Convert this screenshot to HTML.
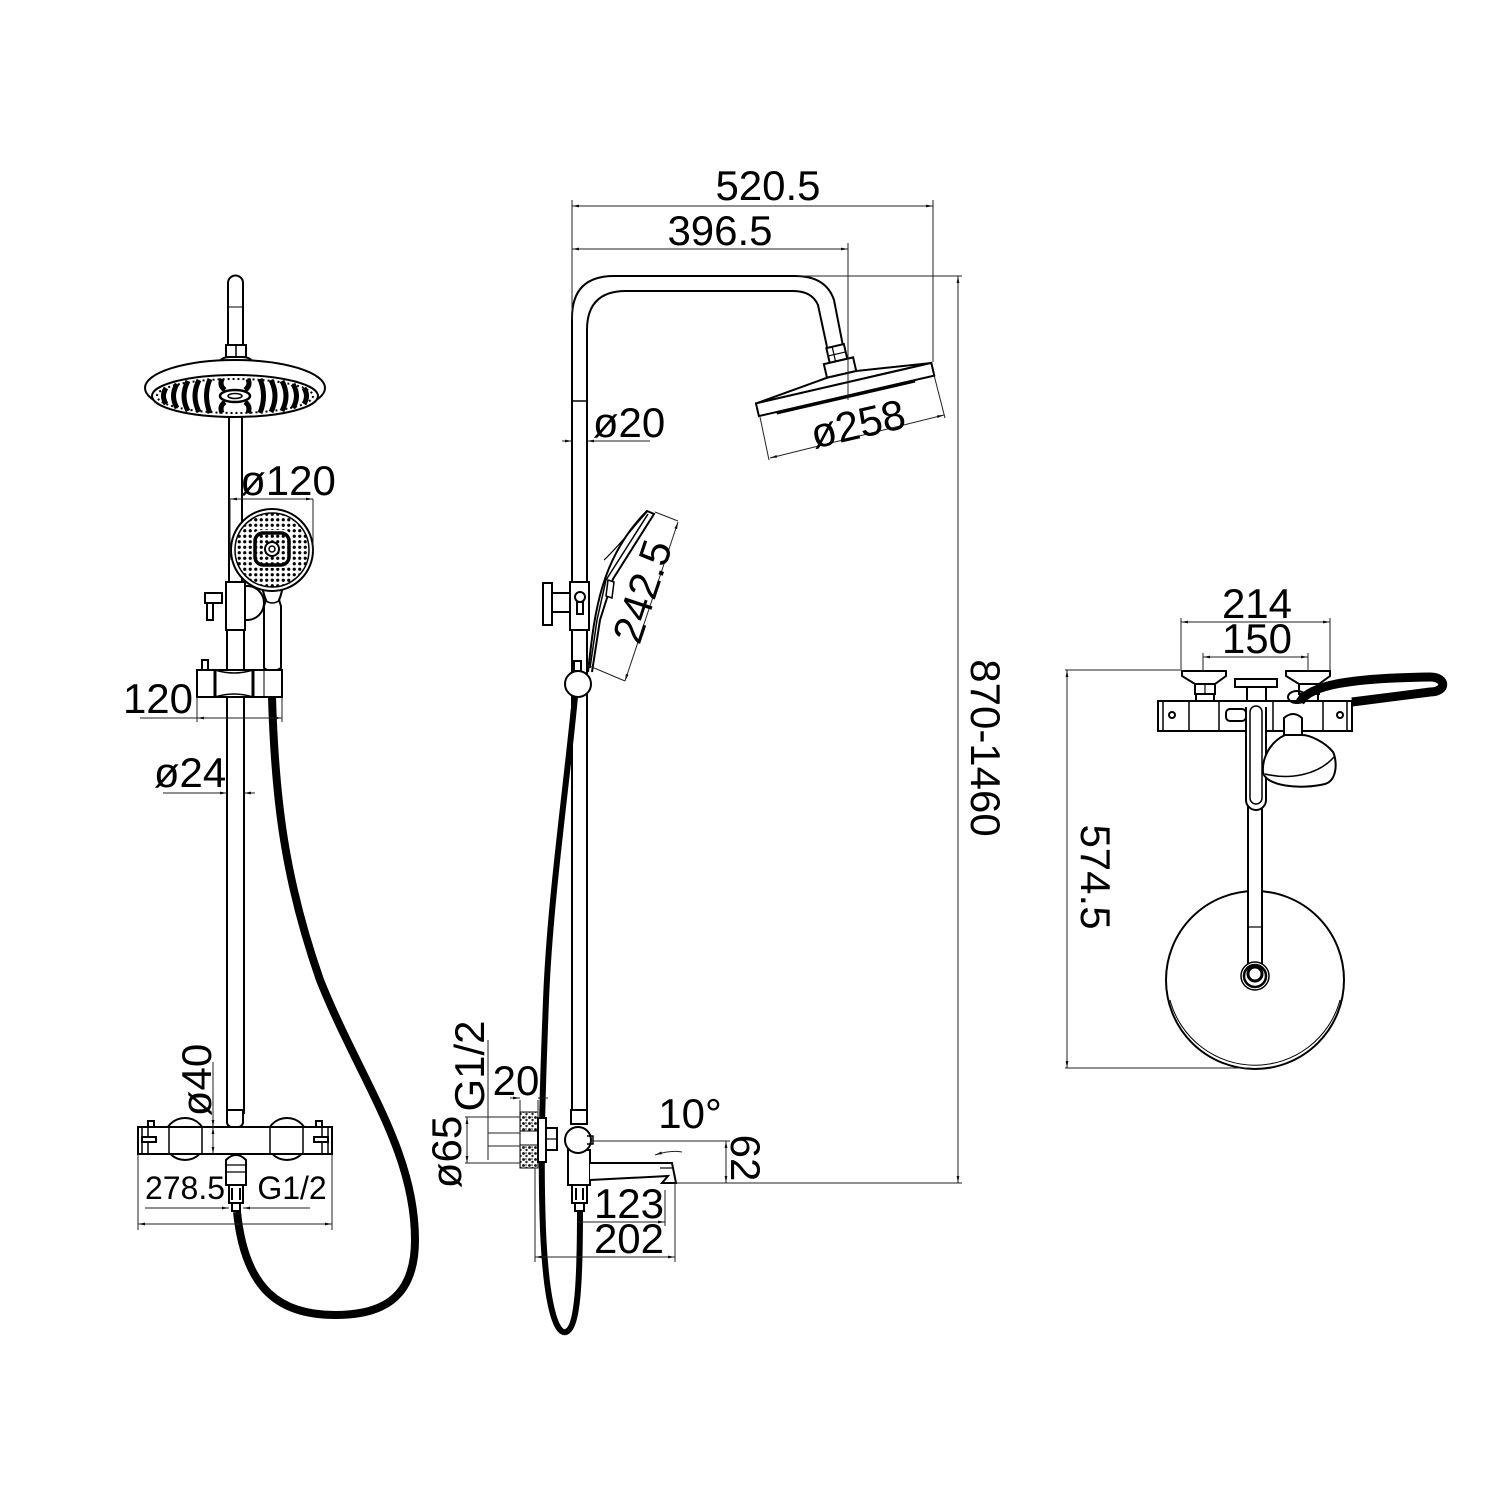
<!DOCTYPE html>
<html><head><meta charset="utf-8"><style>
html,body{margin:0;padding:0;background:#fff;}
svg{display:block;}
text{font-family:"Liberation Sans",Arial,sans-serif;fill:#000;}
</style></head><body>
<svg width="1500" height="1500" viewBox="0 0 1500 1500" xmlns="http://www.w3.org/2000/svg">
<defs>
<marker id="a" viewBox="0 0 10 10" refX="10" refY="5" markerWidth="9" markerHeight="7" orient="auto-start-reverse" markerUnits="userSpaceOnUse"><path d="M0,3 L10,5 L0,7 z" fill="#111"/></marker>
<pattern id="dots" width="5.5" height="5.5" patternUnits="userSpaceOnUse"><circle cx="2.75" cy="2.75" r="1.6" fill="#000"/></pattern>
<pattern id="rough" width="6" height="6" patternUnits="userSpaceOnUse"><rect width="6" height="6" fill="#fff"/><circle cx="1.5" cy="1.5" r="1.4" fill="#111"/><circle cx="4.5" cy="4" r="1.2" fill="#222"/><circle cx="4" cy="1" r="0.8" fill="#222"/></pattern>
</defs>

<!-- ================= LEFT VIEW ================= -->
<g stroke="#000" stroke-width="2" fill="#fff">
  <path d="M272,697 C275,800 285,880 320,980 C360,1080 415,1150 415,1240 C415,1300 380,1315 335,1315 C280,1315 245,1290 237,1212" fill="none" stroke-width="8"/>
  <path d="M228,346 L228,283 A7.5,7.5 0 0 1 243,283 L243,346"/>
  <line x1="228" y1="307" x2="243" y2="307" stroke-width="1"/>
  <rect x="226" y="345" width="20" height="12"/>
  <line x1="236" y1="345" x2="236" y2="357" stroke-width="1.5"/>
  <path d="M219,363 Q221,357 230,357 L242,357 Q251,357 253,363 Z"/>
  <ellipse cx="235" cy="388" rx="90" ry="28"/>
  <ellipse cx="235" cy="396" rx="83" ry="21"/>
  <ellipse cx="235" cy="396" rx="78" ry="17" fill="none" stroke-dasharray="2 3" stroke-width="2"/>
  <g fill="none" stroke-width="5">
    <path d="M166,388 Q161,396 166,404"/>
    <path d="M177,384 Q170,396 177,408"/>
    <path d="M188,381 Q180,396 188,411"/>
    <path d="M199,380 Q191,396 199,412"/>
    <path d="M210,379 Q203,396 210,413"/>
    <path d="M260,379 Q267,396 260,413"/>
    <path d="M271,380 Q279,396 271,412"/>
    <path d="M282,381 Q290,396 282,411"/>
    <path d="M293,384 Q300,396 293,408"/>
    <path d="M304,388 Q309,396 304,404"/>
    <path d="M222,379 Q219,386 225,390 M248,379 Q251,386 245,390 M222,413 Q219,406 225,402 M248,413 Q251,406 245,402"/>
  </g>
  <ellipse cx="235" cy="396" rx="15" ry="6" stroke-width="2.5"/>
  <ellipse cx="235" cy="396" rx="7" ry="2.5" stroke-width="1.5"/>
  <path d="M229,416 L229,582 M242,416 L242,582" fill="none"/>
  <path d="M227,582 L227,1114 M244,582 L244,1114" fill="none"/>
  <circle cx="247" cy="603" r="17"/>
  <rect x="226" y="582" width="19" height="48"/>
  <rect x="205" y="593" width="17" height="10"/>
  <rect x="207" y="603" width="6" height="17"/>
  <path d="M262,586 Q264,596 266,600 L264,606 L264,668 Q272,674 281,668 L281,606 L279,600 Q281,596 283,586 Z"/>
  <path d="M265,600 Q272,606 280,600" fill="none" stroke-width="1.5"/>
  <circle cx="272" cy="550" r="41"/>
  <circle cx="272" cy="550" r="37" stroke-width="1.5" fill="url(#dots)"/>
  <rect x="252" y="530" width="40" height="38" rx="9" fill="#fff" stroke="none"/>
  <rect x="255" y="533" width="34" height="32" rx="8" stroke-width="3.5" fill="url(#dots)"/>
  <circle cx="272" cy="549" r="7" stroke-width="2"/>
  <circle cx="272" cy="549" r="3" stroke-width="1.5"/>
  <rect x="202" y="660" width="6" height="10"/>
  <path d="M197,670 L282,670 L282,697 L197,697 Z"/>
  <path d="M215,670 Q234,676 253,670 M215,697 Q234,691 253,697" fill="none" stroke-width="1.5"/>
  <line x1="215" y1="670" x2="215" y2="697" stroke-width="3"/>
  <line x1="253" y1="670" x2="253" y2="697" stroke-width="3"/>
  <line x1="264" y1="670" x2="264" y2="697" stroke-width="1"/>
  <circle cx="185" cy="1139" r="21"/>
  <circle cx="287" cy="1139" r="21"/>
  <path d="M227,1110 L243,1110 L243,1122 Q243,1127 235,1128 Q227,1127 227,1122 Z"/>
  <rect x="138" y="1127" width="194" height="27"/>
  <path d="M169,1127 L169,1154 M202,1127 L202,1154 M270,1127 L270,1154 M303,1127 L303,1154" fill="none" stroke-width="1.5"/>
  <path d="M142,1127 L142,1154 M148,1127 L148,1154 M322,1127 L322,1154 M328,1127 L328,1154" fill="none" stroke-width="1.5"/>
  <rect x="148" y="1121" width="6" height="6"/>
  <rect x="316" y="1121" width="6" height="6"/>
  <rect x="142" y="1137" width="14" height="5"/>
  <rect x="314" y="1137" width="14" height="5"/>
  <path d="M226,1160 Q236,1150 246,1160 L246,1185 L226,1185 Z"/>
  <path d="M226,1165 L246,1165 M226,1172 L246,1172" fill="none" stroke-width="1.2"/>
  <rect x="229" y="1185" width="14" height="18" stroke-width="2"/>
  <path d="M232,1188 L232,1200 M240,1188 L240,1200" stroke-width="2"/>
  <rect x="232" y="1203" width="8" height="8"/>
</g>
<g stroke="#222" stroke-width="1" fill="none">
  <path d="M230,499 L313,499" marker-start="url(#a)" marker-end="url(#a)"/>
  <path d="M230,499 L230,560 M313,499 L313,552"/>
  <path d="M140,718 L197,718" />
  <path d="M197,718 L282,718" marker-start="url(#a)" marker-end="url(#a)"/>
  <path d="M197,697 L197,722 M282,697 L282,722"/>
  <path d="M163,793 L227,793" marker-end="url(#a)"/>
  <path d="M255,793 L244,793" marker-end="url(#a)"/>
  <path d="M213,1062 L213,1127" marker-end="url(#a)"/>
  <path d="M213,1127 L213,1154" marker-start="url(#a)" marker-end="url(#a)"/>
  <path d="M145,1208 L229,1208" marker-end="url(#a)"/>
  <path d="M310,1208 L243,1208" marker-end="url(#a)"/>
  <path d="M138,1224 L332,1224" marker-start="url(#a)" marker-end="url(#a)"/>
  <path d="M138,1154 L138,1230 M332,1154 L332,1230"/>
</g>
<g font-size="42">
  <text x="288" y="495" text-anchor="middle">ø120</text>
  <text x="158" y="713" text-anchor="middle">120</text>
  <text x="190" y="787" text-anchor="middle">ø24</text>
  <text transform="translate(211,1080) rotate(-90)" text-anchor="middle">ø40</text>
</g>
<g font-size="32">
  <text x="185" y="1199" text-anchor="middle">278.5</text>
  <text x="292" y="1199" text-anchor="middle">G1/2</text>
</g>

<!-- ================= MIDDLE VIEW ================= -->
<g stroke="#000" stroke-width="2" fill="#fff">
  <path d="M575,697 C565,800 550,900 546,1000 C543,1080 540,1150 543,1230 C546,1300 555,1335 566,1332 C578,1328 580,1280 580,1208" fill="none" stroke-width="6"/>
  <path d="M572,1112 L572,318 Q572,276 614,276 L795,276 Q826,276 834,300 L843,346" fill="none"/>
  <path d="M587,1112 L587,330 Q587,291 626,291 L793,291 Q812,291 818,305 L827,347" fill="none"/>
  <line x1="572" y1="401" x2="587" y2="401" stroke-width="1.5"/>
  <g transform="translate(845,389) rotate(-13)">
    <rect x="-9" y="-44" width="18" height="15"/>
    <path d="M-9,-36 L9,-36 M-3,-44 L-3,-29" stroke-width="1.2"/>
    <rect x="-15" y="-29" width="30" height="14"/>
    <path d="M-89,-6 L-15,-15 L15,-15 L89,-6 Z"/>
    <rect x="-90" y="-6" width="180" height="13"/>
    <line x1="-72" y1="8" x2="70" y2="8" stroke-width="3"/>
  </g>
  <rect x="543" y="583" width="9" height="42"/>
  <rect x="552" y="593" width="18" height="19"/>
  <path d="M570,592 A8,9 0 0 1 570,612" fill="none"/>
  <rect x="570" y="582" width="19" height="48"/>
  <circle cx="580" cy="597" r="5"/>
  <rect x="577" y="602" width="6" height="12"/>
  <path d="M588,672 C594,620 598,560 647,511 L654,514 L613,579 L600,620 L592,672" />
  <path d="M648,514 L606,580 L597,620 L590,668" fill="none" stroke-width="1.5"/>
  <path d="M608,580 L614,582 L612,598 L606,596 Z" stroke-width="1.5"/>
  <path d="M604,560 C620,545 635,525 647,512" fill="none" stroke-width="1.2"/>
  <rect x="574" y="661" width="7" height="10"/>
  <circle cx="578" cy="684" r="13"/>
  <rect x="520" y="1112" width="18" height="56" fill="url(#rough)" stroke-width="1"/>
  <rect x="520" y="1131" width="18" height="14" stroke-width="1"/>
  <rect x="538" y="1118" width="8" height="44"/>
  <path d="M546,1128 L557,1128 L557,1150 L546,1150 Z"/>
  <line x1="546" y1="1139" x2="557" y2="1139" stroke-width="1.2"/>
  <path d="M571,1110 L587,1110 L587,1124 L571,1124 Z"/>
  <path d="M568,1150 L590,1150 L590,1185 L568,1185 Z"/>
  <path d="M590,1163 L672,1163 L676,1183 L662,1183 L668,1176 L590,1180" />
  <path d="M660,1168 L672,1168" fill="none" stroke-width="1.2"/>
  <circle cx="578" cy="1140" r="13"/>
  <path d="M587,1136 L593,1136 L593,1144 L587,1144" fill="none" stroke-width="1.5"/>
  <rect x="572" y="1185" width="15" height="18"/>
  <path d="M576,1188 L576,1200 M583,1188 L583,1200" stroke-width="2"/>
  <rect x="575" y="1203" width="9" height="8"/>
</g>
<g stroke="#222" stroke-width="1" fill="none">
  <path d="M572,206 L933,206" marker-start="url(#a)" marker-end="url(#a)"/>
  <path d="M572,249 L848,249" marker-start="url(#a)" marker-end="url(#a)"/>
  <path d="M572,200 L572,320 M933,200 L933,362 M848,243 L848,400"/>
  <path d="M797,276 L962,276 M675,1183 L962,1183"/>
  <path d="M958,276 L958,1183" marker-start="url(#a)" marker-end="url(#a)"/>
  <path d="M562,441 L572,441" marker-end="url(#a)"/>
  <path d="M650,441 L587,441" marker-end="url(#a)"/>
  <path d="M760,417 L769,460 M934,375 L945,418"/>
  <path d="M770,458 L944,415" marker-start="url(#a)" marker-end="url(#a)"/>
  <path d="M587,665 L625,681 M655,512 L678,521"/>
  <path d="M625,681 L678,522" marker-start="url(#a)" marker-end="url(#a)"/>
  <path d="M590,1141 L730,1141"/>
  <path d="M726,1141 L726,1183" marker-start="url(#a)" marker-end="url(#a)"/>
  <path d="M578,1222 L665,1222" marker-end="url(#a)"/>
  <path d="M535,1257 L675,1257" marker-start="url(#a)" marker-end="url(#a)"/>
  <path d="M535,1168 L535,1262 M675,1183 L675,1262 M665,1190 L665,1226"/>
  <path d="M488,1040 L488,1160"/>
  <path d="M510,1098 L520,1098" marker-end="url(#a)"/>
  <path d="M548,1098 L538,1098" marker-end="url(#a)"/>
  <path d="M520,1100 L520,1112 M538,1100 L538,1118"/>
  <path d="M465,1117 L520,1117 M465,1163 L520,1163"/>
  <path d="M467,1117 L467,1163" marker-start="url(#a)" marker-end="url(#a)"/>
  <path d="M488,1133 L520,1133 M488,1146 L520,1146"/>
  <path d="M655,1155 Q670,1150 682,1152" marker-start="url(#a)"/>
</g>
<g font-size="42">
  <text x="768" y="200" text-anchor="middle">520.5</text>
  <text x="720" y="245" text-anchor="middle">396.5</text>
  <text x="629" y="437" text-anchor="middle">ø20</text>
  <text transform="translate(861,438) rotate(-13)" text-anchor="middle">ø258</text>
  <text transform="translate(656,596) rotate(-71.5)" text-anchor="middle">242.5</text>
  <text transform="translate(971,748) rotate(90)" text-anchor="middle">870-1460</text>
  <text transform="translate(731,1158) rotate(90)" text-anchor="middle">62</text>
  <text x="690" y="1128" text-anchor="middle">10°</text>
  <text x="629" y="1218" text-anchor="middle">123</text>
  <text x="629" y="1253" text-anchor="middle">202</text>
  <text x="516" y="1095" text-anchor="middle">20</text>
  <text transform="translate(484,1066) rotate(-90)" text-anchor="middle">G1/2</text>
  <text transform="translate(461,1152) rotate(-90)" text-anchor="middle">ø65</text>
</g>

<!-- ================= RIGHT VIEW ================= -->
<g stroke="#000" stroke-width="2" fill="#fff">
  <circle cx="1255" cy="980" r="89"/>
  <path d="M1170,1000 A88,88 0 0 0 1340,1000" fill="none" stroke-width="1"/>
  <path d="M1248,731 L1248,967 A7,7 0 0 0 1262,967 L1262,731" />
  <line x1="1248" y1="927" x2="1262" y2="927" stroke-width="1.2"/>
  <circle cx="1255" cy="976" r="14" stroke-width="1.5"/>
  <circle cx="1255" cy="976" r="11" stroke-width="2.5"/>
  <circle cx="1255" cy="974" r="7" stroke-width="3"/>
  <path d="M1182,671 L1226,671 L1226,676 L1215,684 L1195,684 L1182,676 Z"/>
  <rect x="1195" y="684" width="20" height="10"/>
  <line x1="1205" y1="684" x2="1205" y2="694" stroke-width="1.2"/>
  <path d="M1196,694 L1214,694 L1214,701 L1196,701 Z"/>
  <path d="M1286,671 L1330,671 L1330,676 L1319,684 L1299,684 L1286,676 Z"/>
  <rect x="1299" y="684" width="20" height="10"/>
  <path d="M1300,694 L1318,694 L1318,701 L1300,701 Z"/>
  <rect x="1235" y="679" width="42" height="8"/>
  <rect x="1247" y="687" width="19" height="15"/>
  <rect x="1158" y="701" width="194" height="30"/>
  <path d="M1163,701 L1163,731 M1189,701 L1189,731 M1219,701 L1219,731 M1273,701 L1273,731 M1323,701 L1323,731 M1347,701 L1347,731" fill="none" stroke-width="1.5"/>
  <circle cx="1172" cy="715" r="3"/>
  <circle cx="1340" cy="715" r="3"/>
  <rect x="1226" y="709" width="20" height="12" rx="4"/>
  <path d="M1246,707 L1246,800 A10,10 0 0 0 1266,800 L1266,707" />
  <path d="M1250,712 A6,6 0 0 1 1262,712 L1262,798 A6,6 0 0 1 1250,798 Z" fill="none" stroke-width="1.5"/>
  <path d="M1284,735 L1284,718 Q1293,710 1302,718 L1302,735"/>
  <path d="M1285,735 C1270,742 1262,758 1263,772 C1265,786 1300,790 1325,784 C1338,780 1337,760 1333,752 C1325,742 1310,735 1302,735 Z"/>
  <path d="M1265,774 C1290,780 1318,775 1334,757" fill="none" stroke-width="1.5"/>
  <path d="M1300,702 C1310,685 1350,678 1430,677 C1447,677 1447,692 1430,692 L1352,702" fill="none" stroke-width="9"/>
  <ellipse cx="1297" cy="697" rx="9" ry="6" fill="none" stroke-width="2"/>
</g>
<g stroke="#222" stroke-width="1" fill="none">
  <path d="M1181,622 L1330,622" marker-start="url(#a)" marker-end="url(#a)"/>
  <path d="M1203,657 L1308,657" marker-start="url(#a)" marker-end="url(#a)"/>
  <path d="M1181,618 L1181,671 M1330,618 L1330,671 M1203,653 L1203,671 M1308,653 L1308,671"/>
  <path d="M1065,670 L1180,670 M1065,1068 L1250,1068"/>
  <path d="M1067,670 L1067,1068" marker-start="url(#a)" marker-end="url(#a)"/>
</g>
<g font-size="42">
  <text x="1257" y="618" text-anchor="middle">214</text>
  <text x="1257" y="653" text-anchor="middle">150</text>
  <text transform="translate(1081,877) rotate(90)" text-anchor="middle">574.5</text>
</g>
</svg>
</body></html>
